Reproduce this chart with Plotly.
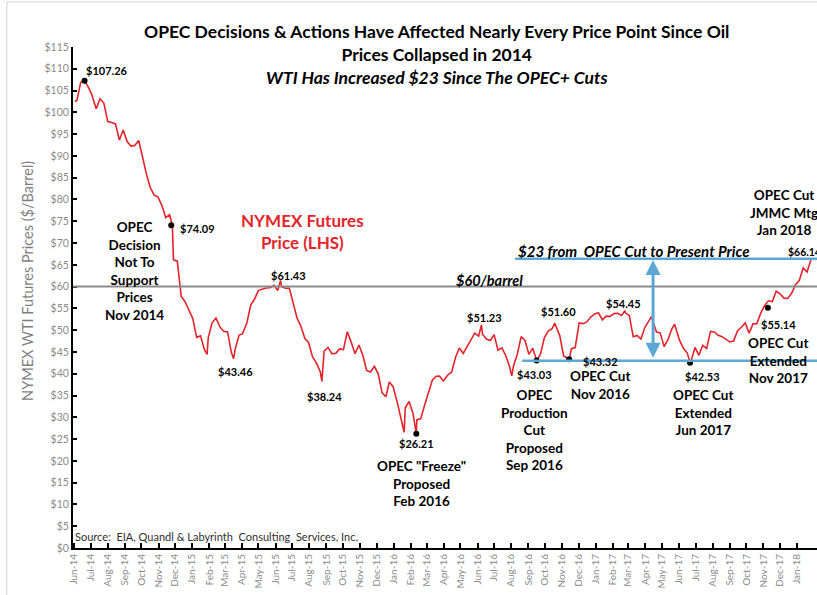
import plotly.graph_objects as go
import pandas as pd

# weekly WTI front-month closes
dates = [
    '2014-06-02', '2014-06-06', '2014-06-13', '2014-06-20', '2014-06-27', '2014-07-03', '2014-07-11', '2014-07-18',
    '2014-07-25', '2014-08-01', '2014-08-08', '2014-08-15', '2014-08-22', '2014-08-29', '2014-09-05', '2014-09-12',
    '2014-09-19', '2014-09-26', '2014-10-03', '2014-10-10', '2014-10-17', '2014-10-24', '2014-10-31', '2014-11-07',
    '2014-11-14', '2014-11-21', '2014-11-26', '2014-11-28', '2014-12-05', '2014-12-12', '2014-12-19', '2014-12-26',
    '2015-01-02', '2015-01-09', '2015-01-16', '2015-01-23', '2015-01-28', '2015-01-30', '2015-02-06', '2015-02-13',
    '2015-02-20', '2015-02-27', '2015-03-06', '2015-03-13', '2015-03-17', '2015-03-20', '2015-03-27', '2015-04-02',
    '2015-04-10', '2015-04-17', '2015-04-24', '2015-05-01', '2015-05-08', '2015-05-15', '2015-05-22', '2015-05-29',
    '2015-06-05', '2015-06-10', '2015-06-12', '2015-06-19', '2015-06-26', '2015-07-02', '2015-07-10', '2015-07-17',
    '2015-07-24', '2015-07-31', '2015-08-07', '2015-08-14', '2015-08-21', '2015-08-24', '2015-08-28', '2015-09-04',
    '2015-09-11', '2015-09-18', '2015-09-25', '2015-10-02', '2015-10-09', '2015-10-16', '2015-10-23', '2015-10-30',
    '2015-11-06', '2015-11-13', '2015-11-20', '2015-11-27', '2015-12-04', '2015-12-11', '2015-12-18', '2015-12-24',
    '2015-12-31', '2016-01-08', '2016-01-15', '2016-01-20', '2016-01-22', '2016-01-29', '2016-02-05', '2016-02-11',
    '2016-02-12', '2016-02-19', '2016-02-26', '2016-03-04', '2016-03-11', '2016-03-18', '2016-03-24', '2016-03-31',
    '2016-04-08', '2016-04-15', '2016-04-22', '2016-04-29', '2016-05-06', '2016-05-13', '2016-05-20', '2016-05-27',
    '2016-06-03', '2016-06-08', '2016-06-10', '2016-06-17', '2016-06-24', '2016-07-01', '2016-07-08', '2016-07-15',
    '2016-07-22', '2016-07-29', '2016-08-02', '2016-08-05', '2016-08-12', '2016-08-19', '2016-08-26', '2016-09-02',
    '2016-09-09', '2016-09-16', '2016-09-23', '2016-09-30', '2016-10-07', '2016-10-14', '2016-10-19', '2016-10-21',
    '2016-10-28', '2016-11-04', '2016-11-11', '2016-11-14', '2016-11-18', '2016-11-25', '2016-12-02', '2016-12-09',
    '2016-12-16', '2016-12-23', '2016-12-30', '2017-01-06', '2017-01-13', '2017-01-20', '2017-01-27', '2017-02-03',
    '2017-02-10', '2017-02-17', '2017-02-23', '2017-02-24', '2017-03-03', '2017-03-10', '2017-03-17', '2017-03-24',
    '2017-03-31', '2017-04-07', '2017-04-12', '2017-04-21', '2017-04-28', '2017-05-05', '2017-05-12', '2017-05-19',
    '2017-05-24', '2017-06-02', '2017-06-09', '2017-06-16', '2017-06-21', '2017-06-23', '2017-06-30', '2017-07-07',
    '2017-07-14', '2017-07-21', '2017-07-28', '2017-08-04', '2017-08-11', '2017-08-18', '2017-08-25', '2017-09-01',
    '2017-09-08', '2017-09-15', '2017-09-22', '2017-09-29', '2017-10-06', '2017-10-13', '2017-10-20', '2017-10-27',
    '2017-11-03', '2017-11-10', '2017-11-17', '2017-11-24', '2017-12-01', '2017-12-08', '2017-12-15', '2017-12-22',
    '2017-12-29', '2018-01-05', '2018-01-12', '2018-01-19', '2018-01-26',
]
prices = [
    102.47, 102.66, 106.91, 107.26, 105.74, 104.06, 100.83, 103.13,
    102.09, 97.88, 97.65, 97.35, 93.65, 95.96, 93.29, 92.27,
    92.41, 93.54, 89.74, 85.82, 82.75, 81.01, 80.54, 78.65,
    75.82, 76.51, 74.09, 66.15, 65.84, 57.81, 56.52, 54.73,
    52.69, 48.36, 48.69, 45.59, 44.45, 48.24, 51.69, 52.78,
    50.81, 49.76, 49.61, 44.84, 43.46, 45.72, 48.87, 49.14,
    51.64, 55.74, 57.15, 59.15, 59.39, 59.69, 59.72, 60.30,
    59.13, 61.43, 59.96, 59.61, 59.63, 56.93, 52.74, 50.89,
    48.14, 47.12, 43.87, 42.50, 40.45, 38.24, 45.22, 46.05,
    44.63, 44.68, 45.70, 45.54, 49.63, 47.26, 44.60, 46.59,
    44.29, 40.74, 40.39, 41.71, 39.97, 35.62, 34.73, 38.10,
    37.04, 33.16, 29.42, 26.55, 32.19, 33.62, 30.89, 26.21,
    29.44, 29.64, 32.78, 35.92, 38.50, 39.44, 39.46, 38.34,
    39.72, 40.36, 43.73, 45.92, 44.66, 46.21, 47.75, 49.33,
    48.62, 51.23, 49.07, 47.98, 47.64, 48.99, 45.41, 45.95,
    44.19, 41.60, 39.51, 41.80, 44.49, 48.52, 47.64, 44.44,
    45.88, 43.03, 44.48, 48.24, 49.81, 50.35, 51.60, 50.85,
    48.70, 44.07, 43.41, 43.32, 45.69, 46.06, 51.68, 51.50,
    51.90, 53.02, 53.72, 53.99, 52.37, 53.22, 53.17, 53.83,
    53.86, 53.40, 54.45, 53.99, 53.33, 48.49, 48.78, 47.97,
    50.60, 52.24, 53.11, 49.62, 49.33, 46.22, 47.84, 50.33,
    51.36, 47.66, 45.83, 44.74, 42.53, 43.01, 46.04, 44.23,
    46.54, 45.77, 49.71, 49.58, 48.82, 48.51, 47.87, 47.29,
    47.48, 49.89, 50.66, 51.67, 49.29, 51.45, 51.47, 53.90,
    55.64, 56.74, 56.55, 58.95, 58.36, 57.36, 57.30, 58.47,
    60.42, 61.44, 64.30, 63.37, 66.14,
]

# marked points (black dots)
dot_dates = ['2014-06-20', '2014-11-24', '2016-02-11', '2016-09-16', '2016-11-14', '2017-06-21', '2017-11-09']
dot_prices = [107.26, 74.09, 26.21, 43.03, 43.32, 42.53, 55.14]

month_labels = ['Jun-14', 'Jul-14', 'Aug-14', 'Sep-14', 'Oct-14', 'Nov-14', 'Dec-14',
                'Jan-15', 'Feb-15', 'Mar-15', 'Apr-15', 'May-15', 'Jun-15', 'Jul-15', 'Aug-15', 'Sep-15',
                'Oct-15', 'Nov-15', 'Dec-15', 'Jan-16', 'Feb-16', 'Mar-16', 'Apr-16', 'May-16', 'Jun-16',
                'Jul-16', 'Aug-16', 'Sep-16', 'Oct-16', 'Nov-16', 'Dec-16', 'Jan-17', 'Feb-17', 'Mar-17',
                'Apr-17', 'May-17', 'Jun-17', 'Jul-17', 'Aug-17', 'Sep-17', 'Oct-17', 'Nov-17', 'Dec-17', 'Jan-18']
month_ticks = [pd.to_datetime(m, format='%b-%y') for m in month_labels]

y_ticks = list(range(0, 120, 5))
y_labels = ['$' + str(v) for v in y_ticks]

cut_level = 43.0      # Nov 2016 cut price line
present_level = 66.4  # present price line

FONT = 'Lato'
RED = '#e3242b'
BLUE = '#5ba7d6'

fig = go.Figure()

fig.add_trace(go.Scatter(x=pd.to_datetime(dates), y=prices, mode='lines',
                         line=dict(color=RED, width=1.6), hoverinfo='skip'))
fig.add_trace(go.Scatter(x=pd.to_datetime(dot_dates), y=dot_prices, mode='markers',
                         marker=dict(color='black', size=6), hoverinfo='skip'))

# $60 line and blue reference lines
fig.add_shape(type='line', xref='paper', x0=0, x1=1, yref='y', y0=60, y1=60,
              line=dict(color='#8a8a8a', width=2))
fig.add_shape(type='line', xref='x', x0='2016-08-21', x1='2018-02-10', yref='y', y0=cut_level, y1=cut_level,
              line=dict(color=BLUE, width=2.5))
fig.add_shape(type='line', xref='x', x0='2016-08-08', x1='2018-02-10', yref='y', y0=present_level, y1=present_level,
              line=dict(color=BLUE, width=2.5))
# light frame around the picture (left and top edges)
fig.add_shape(type='line', xref='paper', yref='paper', x0=-0.089, x1=-0.089, y0=-0.1, y1=1.09,
              line=dict(color='#d4d4d4', width=1))
fig.add_shape(type='line', xref='paper', yref='paper', x0=-0.089, x1=1.1, y0=1.09, y1=1.09,
              line=dict(color='#d4d4d4', width=1))

# double headed arrow
fig.add_annotation(x='2017-04-15', y=present_level - 0.3, ax='2017-04-15', ay=cut_level + 0.3,
                   xref='x', yref='y', axref='x', ayref='y', text='', showarrow=True,
                   arrowhead=2, arrowside='end+start', arrowsize=1, arrowwidth=3, arrowcolor=BLUE)

def note(x, y, text, size=11, bold=True, color='black', italic=False, xanchor='center'):
    t = text
    if bold:
        t = '<b>' + t + '</b>'
    if italic:
        t = '<i>' + t + '</i>'
    fig.add_annotation(x=x, y=y, xref='x', yref='y', text=t, showarrow=False, xanchor=xanchor,
                       yanchor='middle', font=dict(family=FONT, size=size, color=color))

big = 13.5
note('2014-07-31', 109.7, '$107.26')
note('2015-01-11', 73.3, '$74.09')
note('2014-09-19', 63.5, 'OPEC<br>Decision<br>Not To<br>Support<br>Prices<br>Nov 2014', size=big)
note('2015-07-19', 72.6, 'NYMEX Futures<br>Price (LHS)', size=17, color=RED)
note('2015-06-24', 62.5, '$61.43')
note('2015-03-21', 40.6, '$43.46')
note('2015-08-28', 34.8, '$38.24')
note('2016-02-11', 24.0, '$26.21')
note('2016-02-21', 14.9, 'OPEC "Freeze"<br>Proposed<br>Feb 2016', size=big)
note('2016-06-13', 52.8, '$51.23')
note('2016-09-13', 39.9, '$43.03')
note('2016-09-12', 27.0, 'OPEC<br>Production<br>Cut<br>Proposed<br>Sep 2016', size=big)
note('2016-10-25', 54.2, '$51.60')
note('2017-01-09', 42.9, '$43.32')
note('2017-01-09', 37.4, 'OPEC Cut<br>Nov 2016', size=big)
note('2017-02-20', 56.2, '$54.45')
note('2017-07-13', 39.4, '$42.53')
note('2017-07-15', 31.0, 'OPEC Cut<br>Extended<br>Jun 2017', size=big)
note('2017-11-28', 51.4, '$55.14')
note('2017-11-28', 43.1, 'OPEC Cut<br>Extended<br>Nov 2017', size=big)
note('2017-12-08', 76.9, 'OPEC Cut<br>JMMC Mtg<br>Jan 2018', size=big)
note('2017-12-11', 68.0, '$66.14', size=10.5, xanchor='left')
note('2017-03-10', 68.2, '$23 from  OPEC Cut to Present Price', size=15, italic=True)
note('2016-06-23', 61.5, '$60/barrel', size=14.5, italic=True)

# title
fig.add_annotation(x=(436 - 73) / 744, y=(548 - 56) / 499, xref='paper', yref='paper',
                   xanchor='center', yanchor='middle', showarrow=False,
                   text='<b>OPEC Decisions & Actions Have Affected Nearly Every Price Point Since Oil<br>'
                        'Prices Collapsed in 2014<br><i>WTI Has Increased $23 Since The OPEC+ Cuts</i></b>',
                   font=dict(family=FONT, size=17.5, color='black'))
# y axis title
fig.add_annotation(x=(28 - 73) / 744, y=(548 - 282) / 499, xref='paper', yref='paper',
                   xanchor='center', yanchor='middle', showarrow=False, textangle=-90,
                   text='NYMEX WTI Futures Prices ($/Barrel)',
                   font=dict(family=FONT, size=14.5, color='#7f7f7f'))
fig.add_annotation(x=0, y=0.022, xref='paper', yref='paper', xanchor='left', yanchor='middle',
                   text='Source:  EIA, Quandl & Labyrinth  Consulting  Services, Inc.', showarrow=False,
                   font=dict(family=FONT, size=11, color='#303030'))

fig.update_layout(
    width=817, height=595,
    margin=dict(l=73, r=0, t=47, b=47),
    paper_bgcolor='white', plot_bgcolor='white',
    showlegend=False,
    font=dict(family=FONT, color='#7f7f7f'),
)
fig.update_xaxes(range=['2014-05-30', '2018-02-06'], tickvals=month_ticks, ticktext=month_labels,
                 tickangle=-90, ticks='inside', ticklen=5, tickcolor='black', tickwidth=1.5,
                 showline=True, linecolor='black', linewidth=2, showgrid=False, zeroline=False,
                 tickfont=dict(family=FONT, size=10, color='#8a8a8a'))
fig.update_yaxes(range=[0, 115], tickvals=y_ticks, ticktext=y_labels,
                 ticks='inside', ticklen=4, tickcolor='black', tickwidth=1.5,
                 showline=True, linecolor='black', linewidth=2, showgrid=False, zeroline=False,
                 tickfont=dict(family=FONT, size=10.5, color='#8a8a8a'))

fig.write_html('out.html', config={'displayModeBar': False},
               post_script="document.body.style.margin='0';document.body.style.overflow='hidden';")
